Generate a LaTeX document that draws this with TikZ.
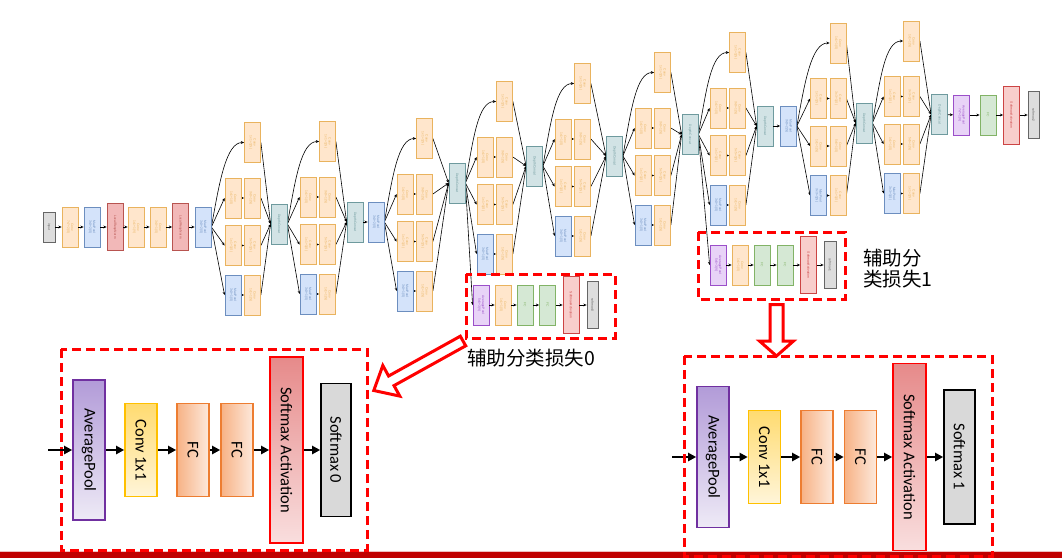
\documentclass[tikz,border=0pt]{standalone}
\usepackage{fontspec}
\setmainfont{Carlito}
\newfontfamily\arialf{Liberation Sans}
\newfontfamily\cjk{Noto Sans CJK SC}
\usetikzlibrary{arrows.meta,calc}
\pgfdeclarelayer{bg}
\pgfdeclarelayer{paper}
\pgfsetlayers{paper,bg,main}

\definecolor{convF}{HTML}{FFE6CC}\definecolor{convD}{HTML}{E9B35E}
\definecolor{poolF}{HTML}{D4E3FA}\definecolor{poolD}{HTML}{6C8EBF}
\definecolor{lrnF}{HTML}{F2B8B8}\definecolor{lrnD}{HTML}{B85450}
\definecolor{catF}{HTML}{D2E3E5}\definecolor{catD}{HTML}{6E9A9E}
\definecolor{avgF}{HTML}{E8D3F7}\definecolor{avgD}{HTML}{9B4FC9}
\definecolor{fcF}{HTML}{D5E8D4}\definecolor{fcD}{HTML}{82B366}
\definecolor{smaF}{HTML}{F8CECC}\definecolor{smaD}{HTML}{CC4444}
\definecolor{smF}{HTML}{DDDDDD}\definecolor{smD}{HTML}{666666}
\definecolor{barc}{HTML}{C00000}
\definecolor{LAPd}{HTML}{7030A0}\definecolor{LAPt}{HTML}{B29BD8}\definecolor{LAPb}{HTML}{EEEAF6}
\definecolor{LCd}{HTML}{FFC000}\definecolor{LCt}{HTML}{FFDB70}\definecolor{LCb}{HTML}{FFF5D9}
\definecolor{LFd}{HTML}{ED7D31}\definecolor{LFl}{HTML}{F7B285}\definecolor{LFr}{HTML}{FDE9DC}
\definecolor{LSd}{HTML}{FF0000}\definecolor{LSt}{HTML}{E68A8A}\definecolor{LSb}{HTML}{F9DEDE}
\definecolor{LMf}{HTML}{D9D9D9}

\newcommand\vt[2]{\rotatebox{-90}{\begin{tabular}{@{}c@{}}#1\\#2\end{tabular}}}
\newcommand\vo[1]{\rotatebox{-90}{#1}}

\tikzset{
  nb/.style={draw, rectangle, line width=0.8pt, minimum width=16pt, minimum height=40pt,
    inner sep=0pt, font=\arialf\fontsize{3.3}{3.8}\selectfont},
  conv/.style={nb, fill=convF, draw=convD, text=convD},
  pool/.style={nb, fill=poolF, draw=poolD, text=poolD},
  lrn/.style={nb, fill=lrnF, draw=lrnD, text=lrnD, minimum height=47pt},
  cat/.style={nb, fill=catF, draw=catD, text=catD},
  avg/.style={nb, fill=avgF, draw=avgD, text=avgD},
  fcb/.style={nb, fill=fcF, draw=fcD, text=fcD},
  sma/.style={nb, fill=smaF, draw=smaD, text=smaD, minimum height=57pt},
  smb/.style={nb, fill=smF, draw=smD, text=smD, minimum width=11pt, minimum height=47pt},
  tarr/.style={-{Stealth[length=3.2pt,width=2.8pt]}, line width=0.6pt, black},
  big/.style={draw, rectangle, line width=1.6pt, inner sep=0pt, minimum width=32pt,
    font=\fontsize{16.5}{19}\selectfont},
  bAP/.style={big, draw=LAPd, top color=LAPt, bottom color=LAPb, minimum height=140pt},
  bCV/.style={big, draw=LCd, top color=LCt, bottom color=LCb, minimum height=93pt},
  bFC/.style={big, draw=LFd, left color=LFl, right color=LFr, minimum height=93pt},
  bSA/.style={big, draw=LSd, top color=LSt, bottom color=LSb, minimum height=186pt},
  bSM/.style={big, draw=black, fill=LMf, minimum width=30pt, minimum height=133pt},
  barr/.style={-{Triangle[length=8pt,width=8pt]}, line width=2.2pt, black},
  rdash/.style={draw=red, line width=3pt, dash pattern=on 9pt off 5pt},
  hollow/.style={draw=red, line width=3pt, fill=white, line join=miter},
  cjkt/.style={font=\cjk\fontsize{19.5}{21}\selectfont, inner sep=0pt}
}

% inception module: #1 prefix, #2 source node, #3 cx1, #4 y of row 1, #5 concat x, #6 concat y
\newcommand\incep[6]{%
  \node[conv] (#1b0) at ({#3+19.5},{#4-55.5}) {\vt{Conv}{1x1+1(S)}};
  \node[conv] (#1a1) at (#3,#4) {\vt{Conv}{1x1+1(S)}};
  \node[conv] (#1b1) at ({#3+19.5},#4) {\vt{Conv}{3x3+1(S)}};
  \node[conv] (#1a2) at (#3,{#4+47.5}) {\vt{Conv}{1x1+1(S)}};
  \node[conv] (#1b2) at ({#3+19.5},{#4+47.5}) {\vt{Conv}{5x5+1(S)}};
  \node[pool] (#1a3) at (#3,{#4+97}) {\vt{MaxPool}{3x3+1(S)}};
  \node[conv] (#1b3) at ({#3+19.5},{#4+97}) {\vt{Conv}{1x1+1(S)}};
  \node[cat] (#1d) at (#5,#6) {\vo{DepthConcat}};
  \begin{pgfonlayer}{bg}
    \draw[tarr] (#2.east) -- (#1a1.west);
    \draw[tarr] (#2.east) -- (#1a2.west);
    \draw[tarr] (#2.east) -- (#1a3.west);
    \draw[tarr] (#2.east) .. controls +(8,-45) and +(-18,0) .. (#1b0.west);
    \draw[tarr] (#1a1) -- (#1b1);
    \draw[tarr] (#1a2) -- (#1b2);
    \draw[tarr] (#1a3) -- (#1b3);
    \draw[tarr] (#1b0.east) -- (#1d.west);
    \draw[tarr] (#1b1.east) -- (#1d.west);
    \draw[tarr] (#1b2.east) -- (#1d.west);
    \draw[tarr] (#1b3.east) -- (#1d.west);
  \end{pgfonlayer}
}

\begin{document}
\begin{tikzpicture}[x=1pt,y=-1pt]
\useasboundingbox (0,0) rectangle (1062,558);
\begin{pgfonlayer}{paper}
\fill[white] (0,0) rectangle (1062,558);
\end{pgfonlayer}

% ---------- stem ----------
\node[smb, minimum width=12pt, minimum height=30pt] (in) at (49,227) {\vo{input}};
\node[conv] (c1) at (70,227) {\vt{Conv}{7x7+2(S)}};
\node[pool] (p1) at (92,227) {\vt{MaxPool}{3x3+2(S)}};
\node[lrn] (n1) at (115,227) {\vo{LocalRespNorm}};
\node[conv] (c2) at (136,227) {\vt{Conv}{1x1+1(V)}};
\node[conv] (c3) at (158,227) {\vt{Conv}{3x3+1(S)}};
\node[lrn] (n2) at (180.5,227) {\vo{LocalRespNorm}};
\node[pool] (p2) at (203,227) {\vt{MaxPool}{3x3+2(S)}};
\draw[tarr] (in) -- (c1);
\draw[tarr] (c1) -- (p1);
\draw[tarr] (p1) -- (n1);
\draw[tarr] (n1) -- (c2);
\draw[tarr] (c2) -- (c3);
\draw[tarr] (c3) -- (n2);
\draw[tarr] (n2) -- (p2);

% ---------- inception modules ----------
\incep{iA}{p2}{233}{198}{279}{224}
\incep{iB}{iAd}{308}{197}{355}{222}
\node[pool] (p3) at (376,222) {\vt{MaxPool}{3x3+2(S)}};
\draw[tarr] (iBd) -- (p3);
\incep{iC}{p3}{405}{194}{457}{183}
\incep{iD}{iCd}{485}{157}{534.5}{166}
\incep{iE}{iDd}{563}{139}{614.5}{156}
\incep{iF}{iEd}{643}{128}{690}{134.5}
\incep{iG}{iFd}{718}{108}{765}{126}
\node[pool] (p4) at (788.5,126) {\vt{MaxPool}{3x3+2(S)}};
\draw[tarr] (iGd) -- (p4);
\incep{iH}{p4}{818.5}{98.5}{864}{123}
\incep{iI}{iHd}{892}{96.5}{939.5}{114.5}

% ---------- final classifier ----------
\node[avg] (ap) at (961.5,115) {\vt{AveragePool}{7x7+1(V)}};
\node[fcb] (fc) at (988,115) {\vo{FC}};
\node[sma, minimum height=58pt] (sa) at (1011.5,115) {\vo{SoftmaxActivation}};
\node[smb] (sm) at (1033.5,115) {\vo{softmax2}};
\draw[tarr] (iId) -- (ap);
\draw[tarr] (ap) -- (fc);
\draw[tarr] (fc) -- (sa);
\draw[tarr] (sa) -- (sm);

% ---------- auxiliary classifier 0 ----------
\node[avg] (u0p) at (481,305) {\vt{AveragePool}{5x5+3(V)}};
\node[conv] (u0c) at (503,305) {\vt{Conv}{1x1+1(S)}};
\node[fcb] (u0f) at (525,305) {\vo{FC}};
\node[fcb] (u0g) at (547.5,305) {\vo{FC}};
\node[sma] (u0s) at (571,305) {\vo{SoftmaxActivation}};
\node[smb] (u0m) at (592.5,305) {\vo{softmax0}};
\begin{pgfonlayer}{bg}
\draw[tarr] (iCd.east) -- (u0p.west);
\end{pgfonlayer}
\draw[tarr] (u0p) -- (u0c);
\draw[tarr] (u0c) -- (u0f);
\draw[tarr] (u0f) -- (u0g);
\draw[tarr] (u0g) -- (u0s);
\draw[tarr] (u0s) -- (u0m);
\draw[rdash] (466,274) rectangle (615,338);

% ---------- auxiliary classifier 1 ----------
\node[avg] (u1p) at (718,265) {\vt{AveragePool}{5x5+3(V)}};
\node[conv] (u1c) at (740,265) {\vt{Conv}{1x1+1(S)}};
\node[fcb] (u1f) at (762,265) {\vo{FC}};
\node[fcb] (u1g) at (785,265) {\vo{FC}};
\node[sma] (u1s) at (808.5,265) {\vo{SoftmaxActivation}};
\node[smb, minimum width=12pt] (u1m) at (830,265) {\vo{softmax1}};
\begin{pgfonlayer}{bg}
\draw[tarr] (iFd.east) -- (u1p.west);
\end{pgfonlayer}
\draw[tarr] (u1p) -- (u1c);
\draw[tarr] (u1c) -- (u1f);
\draw[tarr] (u1f) -- (u1g);
\draw[tarr] (u1g) -- (u1s);
\draw[tarr] (u1s) -- (u1m);
\draw[rdash] (698,232) rectangle (845,299);

% ---------- labels ----------
\node[cjkt, anchor=base west] (t0) at (467,365) {辅助分类损失0};
\node[cjkt, anchor=base west] (t1) at (863,265.5) {辅助分};
\node[cjkt, anchor=base west] (t2) at (863,286.5) {类损失1};

% ---------- hollow arrows ----------
\draw[hollow] (460.3,336.2) -- (388.6,376.0) -- (382.8,365.5) -- (373.8,390.5)
  -- (399.8,396.1) -- (394.0,385.6) -- (465.7,345.8) -- cycle;
\draw[hollow] (770,304.5) -- (783,304.5) -- (783,341) -- (793.5,341) -- (776.5,356)
  -- (759.5,341) -- (770,341) -- cycle;

% ---------- bottom bar ----------
\fill[barc!25] (0,550.5) rectangle (1062,552);
\fill[barc] (0,552) rectangle (1062,558);

% ---------- lower left detail ----------
\draw[rdash] (61,349) rectangle (367,550);
\coordinate (Ls) at (48,450);
\node[bAP] (LAP) at (89,450) {\vo{AveragePool}};
\node[bCV] (LCV) at (141,450) {\vo{Conv 1x1}};
\node[bFC] (LF1) at (193,450) {\vo{FC}};
\node[bFC] (LF2) at (237,450) {\vo{FC}};
\node[bSA, minimum width=33pt] (LSA) at (286.5,450) {\vo{Softmax Activation}};
\node[bSM] (LSM) at (336,450) {\vo{Softmax 0}};
\draw[barr] (Ls) -- (LAP);
\draw[barr] (LAP) -- (LCV);
\draw[barr] (LCV) -- (LF1);
\draw[barr] (LF1) -- (LF2);
\draw[barr] (LF2) -- (LSA);
\draw[barr] (LSA) -- (LSM);

% ---------- lower right detail ----------
\coordinate (Rs) at (672,457);
\node[bAP, minimum height=141pt] (RAP) at (713,457) {\vo{AveragePool}};
\node[bCV] (RCV) at (764.5,457) {\vo{Conv 1x1}};
\node[bFC] (RF1) at (817,457) {\vo{FC}};
\node[bFC] (RF2) at (860.5,457) {\vo{FC}};
\node[bSA, minimum width=33pt, minimum height=187pt] (RSA) at (909.5,457) {\vo{Softmax Activation}};
\node[bSM, minimum width=31pt, minimum height=134pt] (RSM) at (959.5,457) {\vo{Softmax 1}};
\draw[barr] (Rs) -- (RAP);
\draw[barr] (RAP) -- (RCV);
\draw[barr] (RCV) -- (RF1);
\draw[barr] (RF1) -- (RF2);
\draw[barr] (RF2) -- (RSA);
\draw[barr] (RSA) -- (RSM);
\draw[rdash] (684,356) rectangle (992,556);
\end{tikzpicture}
\end{document}
